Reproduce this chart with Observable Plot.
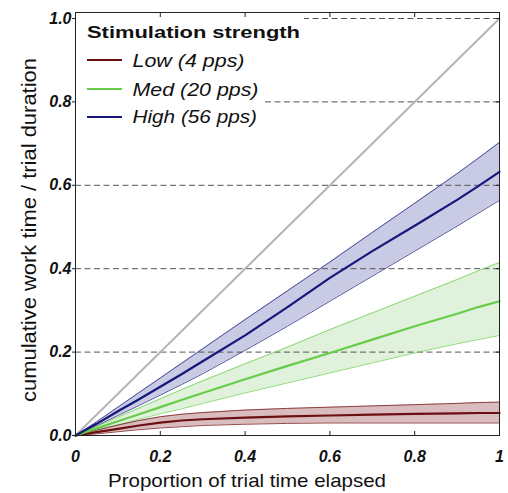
<!DOCTYPE html>
<html>
<head>
<meta charset="utf-8">
<script src="https://cdn.jsdelivr.net/npm/d3@7"></script>
<script src="https://cdn.jsdelivr.net/npm/@observablehq/plot@0.6"></script>
<style>
  html, body { margin: 0; padding: 0; background: #fff; }
  #chart { position: relative; width: 508px; height: 493px; }
</style>
</head>
<body>
<div id="chart"></div>
<script>
// ---- data ----
const time = [0, 0.05, 0.1, 0.15, 0.2, 0.25, 0.3, 0.4, 0.5, 0.6, 0.7, 0.8, 0.9, 0.95, 1];

const lowMean = [0, 0.008, 0.016, 0.024, 0.031, 0.036, 0.039, 0.043, 0.046, 0.048, 0.050, 0.052, 0.053, 0.054, 0.054];
const lowLo   = [0, 0.004, 0.009, 0.014, 0.018, 0.021, 0.024, 0.027, 0.029, 0.030, 0.030, 0.030, 0.030, 0.030, 0.030];
const lowHi   = [0, 0.013, 0.025, 0.036, 0.045, 0.051, 0.055, 0.061, 0.065, 0.068, 0.071, 0.074, 0.077, 0.079, 0.080];

const medMean = [0, 0.017, 0.034, 0.051, 0.068, 0.085, 0.102, 0.135, 0.167, 0.198, 0.230, 0.262, 0.292, 0.308, 0.322];
const medLo   = [0, 0.013, 0.026, 0.039, 0.052, 0.064, 0.077, 0.102, 0.126, 0.150, 0.174, 0.198, 0.220, 0.230, 0.240];
const medHi   = [0, 0.022, 0.044, 0.066, 0.088, 0.110, 0.131, 0.172, 0.212, 0.254, 0.294, 0.334, 0.374, 0.395, 0.415];

const highMean = [0, 0.028, 0.058, 0.087, 0.117, 0.147, 0.178, 0.240, 0.308, 0.378, 0.442, 0.503, 0.565, 0.598, 0.632];
const highLo   = [0, 0.023, 0.048, 0.072, 0.097, 0.122, 0.148, 0.204, 0.262, 0.322, 0.382, 0.442, 0.502, 0.533, 0.564];
const highHi   = [0, 0.033, 0.068, 0.103, 0.138, 0.173, 0.208, 0.278, 0.347, 0.416, 0.487, 0.557, 0.628, 0.665, 0.703];

const unity = [0, 1];

const seriesNames = ["Low (4 pps)", "Med (20 pps)", "High (56 pps)"];
const lineColors  = ["#6b0f12", "#66cc4a", "#15177a"];
const edgeColors  = ["#7a1d1f", "#72d058", "#2a2c86"];
const bandColors  = ["#d9bcbd", "#e0f2db", "#c9cae3"];

const legendTitle = "Stimulation strength";
const xTitle = "Proportion of trial time elapsed";
const yTitle = "cumulative work time / trial duration";

const xTicks = [0, 0.2, 0.4, 0.6, 0.8, 1];
const xTickLabels = ["0", "0.2", "0.4", "0.6", "0.8", "1"];
const yTicks = [0, 0.2, 0.4, 0.6, 0.8, 1.0];
const yTickLabels = ["0.0", "0.2", "0.4", "0.6", "0.8", "1.0"];
const gridLevels = [0.2, 0.4, 0.6, 0.8, 1.0];

// ---- build table ----
const means = [lowMean, medMean, highMean];
const los = [lowLo, medLo, highLo];
const his = [lowHi, medHi, highHi];
const rows = [];
seriesNames.forEach((s, i) => {
  time.forEach((t, j) => rows.push({series: s, t, mean: means[i][j], lo: los[i][j], hi: his[i][j]}));
});
const colorOf = (arr) => (d) => arr[seriesNames.indexOf(d.series)];

const font = "'Liberation Sans', Arial, Helvetica, sans-serif";
const tickFont = {fontSize: 16, fontWeight: "bold", fontStyle: "italic"};

const svg = Plot.plot({
  width: 508,
  height: 493,
  marginLeft: 75,
  marginRight: 9,
  marginTop: 12,
  marginBottom: 58,
  style: {fontFamily: font, background: "#fff", color: "#111"},
  x: {domain: [0, 1]},
  y: {domain: [0, 1.0144]},
  marks: [
    Plot.areaY(rows, {x: "t", y1: "lo", y2: "hi", z: "series", fill: colorOf(bandColors), curve: "linear"}),
    Plot.ruleY(gridLevels, {stroke: "#555", strokeWidth: 1, strokeDasharray: "6,3.5"}),
    Plot.line(rows, {x: "t", y: "lo", z: "series", stroke: colorOf(edgeColors), strokeWidth: 0.8}),
    Plot.line(rows, {x: "t", y: "hi", z: "series", stroke: colorOf(edgeColors), strokeWidth: 0.8}),
    Plot.line(unity, {x: d => d, y: d => d, stroke: "#b5b5b5", strokeWidth: 2}),
    Plot.line(rows, {x: "t", y: "mean", z: "series", stroke: colorOf(lineColors), strokeWidth: 2.2}),
    Plot.frame({stroke: "#222", strokeWidth: 1}),
    // inward tick marks
    Plot.axisX({anchor: "bottom", ticks: xTicks, tickSize: -4, tickFormat: () => "", label: null, stroke: "#222"}),
    Plot.axisX({anchor: "top", ticks: xTicks, tickSize: -4, tickFormat: () => "", label: null, stroke: "#222"}),
    Plot.axisY({anchor: "right", ticks: yTicks, tickSize: -4, tickFormat: () => "", label: null, stroke: "#222"}),
    // labels
    Plot.axisX({anchor: "bottom", ticks: xTicks, tickSize: 0, tickPadding: 15, label: null,
      tickFormat: (d) => xTickLabels[xTicks.indexOf(d)], ...tickFont, fill: "#111"}),
    Plot.axisY({anchor: "left", ticks: yTicks, tickSize: 3, tickPadding: 1, label: null,
      tickFormat: (d) => yTickLabels[yTicks.indexOf(d)], ...tickFont, fill: "#111", stroke: "#222"})
  ]
});

document.getElementById("chart").appendChild(svg);

// ---- axis titles ----
const s = d3.select(svg);
const titles = s.append("g").attr("text-anchor", "start");
titles.append("text")
  .attr("x", 108).attr("y", 487)
  .attr("font-family", font).attr("font-size", 18.5).attr("fill", "#111")
  .attr("textLength", 278).attr("lengthAdjust", "spacingAndGlyphs")
  .text(xTitle);
titles.append("text")
  .attr("transform", "translate(36,402) rotate(-90)")
  .attr("font-family", font).attr("font-size", 19.5).attr("fill", "#111")
  .attr("textLength", 344).attr("lengthAdjust", "spacingAndGlyphs")
  .text(yTitle);

// ---- legend ----
const lg = s.append("g").attr("text-anchor", "start");
function addRow(textSel, padTop, padBottom, right) {
  const b = textSel.node().getBBox();
  lg.insert("rect", ":first-child")
    .attr("x", 76).attr("y", b.y - padTop)
    .attr("width", right + 4 - 76).attr("height", b.height + padTop + padBottom)
    .attr("fill", "#fff");
}
const tt = lg.append("text")
  .attr("x", 87).attr("y", 38)
  .attr("font-family", font).attr("font-size", 17).attr("font-weight", "bold").attr("fill", "#111")
  .attr("textLength", 213).attr("lengthAdjust", "spacingAndGlyphs")
  .text(legendTitle);
addRow(tt, 6, 2, 87 + 213);
const swY = [60, 89, 117];
const txY = [67, 96, 123];
const txLen = [112, 126, 124.5];
seriesNames.forEach((name, i) => {
  const t = lg.append("text")
    .attr("x", 132.5).attr("y", txY[i])
    .attr("font-family", font).attr("font-size", 17.5).attr("font-style", "italic").attr("fill", "#111")
    .attr("textLength", txLen[i]).attr("lengthAdjust", "spacingAndGlyphs")
    .text(name);
  addRow(t, 2, 4, 132.5 + txLen[i]);
  lg.append("line")
    .attr("x1", 87).attr("x2", 122).attr("y1", swY[i]).attr("y2", swY[i])
    .attr("stroke", lineColors[i]).attr("stroke-width", 2);
});
</script>
</body>
</html>
